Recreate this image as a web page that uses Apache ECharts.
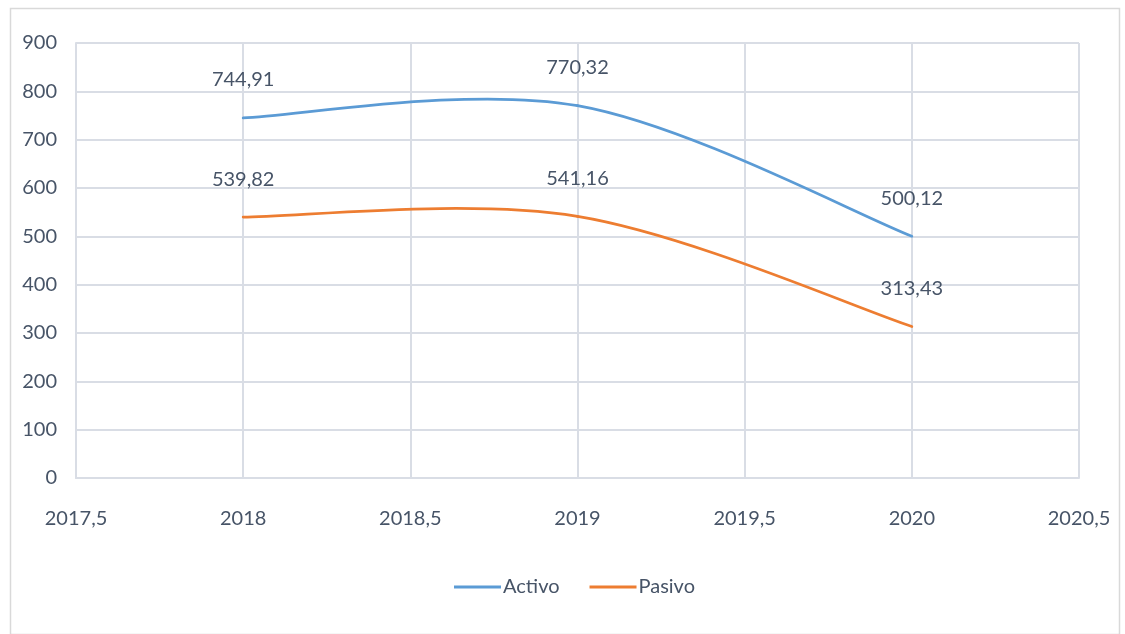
<!DOCTYPE html>
<html>
<head>
<meta charset="utf-8">
<script src="https://cdn.jsdelivr.net/npm/echarts@6/dist/echarts.min.js"></script>
<style>
html,body{margin:0;padding:0;background:#fff;}
#c{width:1125px;height:634px;}
</style>
</head>
<body>
<div id="c"></div>
<script>
const years = [2018, 2019, 2020];
const activo = [744.91, 770.32, 500.12];
const pasivo = [539.82, 541.16, 313.43];
const seriesNames = ['Activo', 'Pasivo'];
const seriesColors = ['#5b9bd5', '#ed7d31'];

const FONT = 'Lato, "Open Sans", sans-serif';
const TXT = '#475467';
const fmtNum = v => v.toFixed(2).replace('.', ',');

// Excel-like smoothed segment (Catmull-Rom style Bezier) using library coords
function curveRenderer(vals, color) {
  return function (params, api) {
    const i = params.dataIndex;
    const n = years.length;
    if (i >= n - 1) return null;
    const P = j => api.coord([years[Math.max(0, Math.min(n - 1, j))], vals[Math.max(0, Math.min(n - 1, j))]]);
    const p0 = P(i - 1), p1 = P(i), p2 = P(i + 1), p3 = P(i + 2);
    const cp1 = [p1[0] + (p2[0] - p0[0]) / 6, p1[1] + (p2[1] - p0[1]) / 6];
    const cp2 = [p2[0] - (p3[0] - p1[0]) / 6, p2[1] - (p3[1] - p1[1]) / 6];
    return {
      type: 'bezierCurve',
      shape: { x1: p1[0], y1: p1[1], x2: p2[0], y2: p2[1], cpx1: cp1[0], cpy1: cp1[1], cpx2: cp2[0], cpy2: cp2[1] },
      style: { fill: null, stroke: color, lineWidth: 2.75, lineCap: 'round' },
      silent: true
    };
  };
}

function labelSeries(name, vals, color) {
  return {
    name: name, type: 'line',
    data: years.map((y, i) => [y, vals[i]]),
    symbol: 'circle', symbolSize: 0.01, showSymbol: true,
    lineStyle: { color: color, width: 2.75, opacity: 0 },
    itemStyle: { color: color },
    z: 3,
    label: {
      show: true, position: 'top', distance: 28,
      fontFamily: FONT, fontSize: 20, color: TXT,
      formatter: p => fmtNum(p.value[1])
    }
  };
}

function curveSeries(vals, color) {
  return {
    type: 'custom', name: '_curve',
    data: years.map((y, i) => [y, vals[i]]),
    encode: { x: 0, y: 1 },
    renderItem: curveRenderer(vals, color),
    z: 2, silent: true
  };
}

const chart = echarts.init(document.getElementById('c'));
chart.setOption({
  animation: false,
  backgroundColor: '#fff',
  graphic: [{
    type: 'rect', left: 8, top: 6,
    shape: { width: 1109, height: 626 },
    style: { fill: 'none', stroke: '#d9d9d9', lineWidth: 1.5 },
    silent: true
  }],
  grid: { left: 76, right: 46, top: 43, bottom: 156, containLabel: false },
  legend: {
    bottom: 32, left: 449,
    itemWidth: 47, itemHeight: 3, itemGap: 30,
    icon: 'rect',
    textStyle: { fontFamily: FONT, fontSize: 20, color: TXT, padding: [0, 0, 0, -3] },
    data: seriesNames
  },
  xAxis: {
    type: 'value', min: 2017.5, max: 2020.5, interval: 0.5,
    axisLine: { show: true, lineStyle: { color: '#d9dde5', width: 2 } },
    axisTick: { show: false },
    splitLine: { show: true, lineStyle: { color: '#d9dde5', width: 2 } },
    axisLabel: {
      margin: 31, fontFamily: FONT, fontSize: 20, color: TXT,
      formatter: v => String(v).replace('.', ',')
    }
  },
  yAxis: {
    type: 'value', min: 0, max: 900, interval: 100,
    axisLine: { show: true, lineStyle: { color: '#d9dde5', width: 2 } },
    axisTick: { show: false },
    splitLine: { show: true, lineStyle: { color: '#d9dde5', width: 2 } },
    axisLabel: { margin: 19, fontFamily: FONT, fontSize: 20, color: TXT }
  },
  series: [
    curveSeries(activo, seriesColors[0]),
    curveSeries(pasivo, seriesColors[1]),
    labelSeries(seriesNames[0], activo, seriesColors[0]),
    labelSeries(seriesNames[1], pasivo, seriesColors[1])
  ]
});
</script>
</body>
</html>
